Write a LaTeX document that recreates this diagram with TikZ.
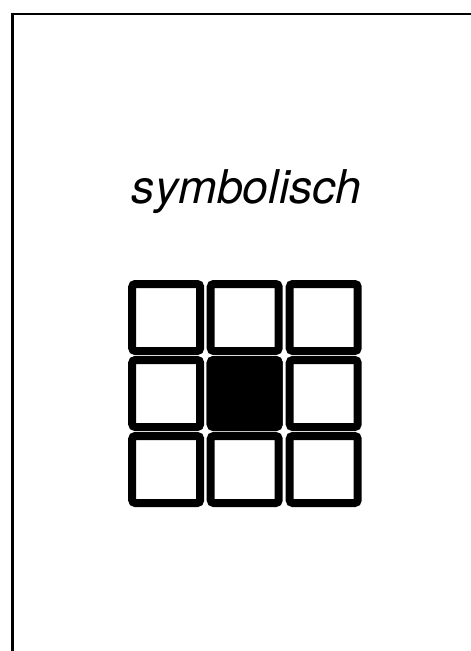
\documentclass[tikz,border=0pt]{standalone}
\usepackage{fontspec}
\setmainfont{TeX Gyre Heros}
\usepackage{tikz}
\usetikzlibrary{positioning}

\begin{document}
\begin{tikzpicture}[
    x=1pt, y=-1pt,
    frame/.style={draw, line width=2.8pt},
    cell/.style={rectangle, draw, line width=8pt, rounded corners=3pt, minimum width=68pt, minimum height=67pt, inner sep=0pt, fill=white},
    filled/.style={cell, fill=black},
    label/.style={font=\fontsize{46.5}{56}\selectfont\itshape, anchor=base}
]
\useasboundingbox (0,0) rectangle (471,651);

% Frame (only top and left edge in view)
\coordinate (fbl) at (12.3,660);
\coordinate (ftl) at (12.3,14);
\coordinate (ftr) at (480,14);
\draw[frame] (fbl) -- (ftl) -- (ftr);

% Title
\node[label] at (246.7,203) (title) {symbolisch};

% 3x3 grid of cells
\foreach \r/\y in {1/317.5, 2/393.5, 3/469.5} {
  \foreach \c/\x in {1/166.2, 2/244.7, 3/323.7} {
    \node[cell] at (\x,\y) (c\r\c) {};
  }
}

% Centre cell filled
\node[filled] at (c22) (mid) {};

\end{tikzpicture}
\end{document}
